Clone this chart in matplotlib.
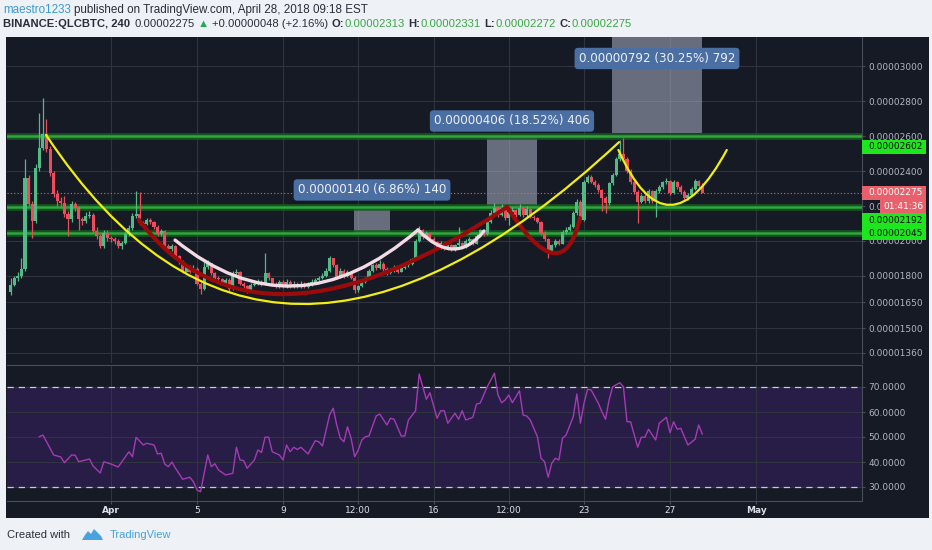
import numpy as np
import matplotlib
matplotlib.use("Agg")
import matplotlib.pyplot as plt
from matplotlib.patches import Rectangle, PathPatch, Polygon
from matplotlib.path import Path
from matplotlib.transforms import IdentityTransform

W, H = 932, 550

# QLC/BTC 4h bars, prices in satoshi (1e-8 BTC)
bar_t0 = -4 - 2 / 3      # first bar Mar 27 08:00, in days from Apr 1 00:00
bar_step = 1 / 6

opens = [1710,1750,1785,1800,1837,2361,2211,2113,2418,2534,
         2614,2528,2390,2269,2228,2217,2154,2125,2211,2188,
         2125,2113,2142,2150,2056,2027,1969,2044,2015,2009,
         1998,1969,1986,2038,2073,2142,2154,2102,2096,2119,
         2107,2079,2038,2056,1969,1952,1969,1912,1883,1825,
         1854,1825,1842,1756,1727,1848,1871,1814,1785,1780,
         1756,1779,1727,1814,1825,1756,1744,1710,1750,1756,
         1767,1750,1814,1785,1756,1739,1767,1739,1767,1739,
         1756,1739,1756,1739,1750,1767,1779,1790,1800,1830,
         1900,1860,1790,1830,1800,1825,1790,1720,1740,1765,
         1785,1830,1860,1845,1870,1840,1815,1835,1850,1825,
         1845,1860,1870,1895,2000,2060,2025,2045,2010,1995,
         1965,1990,1960,1975,1950,1975,1990,1965,2000,2010,
         1985,2030,2060,2040,2110,2160,2190,2150,2190,2130,
         2165,2175,2150,2190,2150,2185,2140,2130,2110,2045,
         2010,1945,1975,2000,1985,2050,2065,2080,2160,2225,
         2120,2340,2365,2340,2320,2290,2245,2215,2330,2380,
         2470,2500,2470,2400,2335,2280,2225,2260,2230,2285,
         2230,2285,2310,2335,2345,2275,2340,2310,2280,2245,
         2265,2300,2345,2313]
closes = [1750,1785,1800,1837,2361,2211,2113,2418,2534,2614,
          2528,2390,2269,2228,2217,2154,2125,2211,2188,2125,
          2113,2142,2150,2056,2027,1969,2044,2015,2009,1998,
          1969,1986,2038,2073,2142,2154,2102,2096,2119,2107,
          2079,2038,2056,1969,1952,1969,1912,1883,1825,1854,
          1825,1842,1756,1727,1848,1871,1814,1785,1780,1756,
          1779,1727,1814,1825,1756,1744,1710,1750,1756,1767,
          1750,1814,1785,1756,1739,1767,1739,1767,1739,1756,
          1739,1756,1739,1750,1767,1779,1790,1800,1830,1900,
          1860,1790,1830,1800,1825,1790,1720,1740,1765,1785,
          1830,1860,1845,1870,1840,1815,1835,1850,1825,1845,
          1860,1870,1895,2000,2060,2025,2045,2010,1995,1965,
          1990,1960,1975,1950,1975,1990,1965,2000,2010,1985,
          2030,2060,2040,2110,2160,2190,2150,2190,2130,2165,
          2175,2150,2190,2150,2185,2140,2130,2110,2045,2010,
          1945,1975,2000,1985,2050,2065,2080,2160,2225,2120,
          2340,2365,2340,2320,2290,2245,2215,2330,2380,2470,
          2500,2470,2400,2335,2280,2225,2260,2230,2285,2230,
          2285,2310,2335,2345,2275,2340,2310,2280,2245,2265,
          2300,2345,2313,2275]
highs = [1790,1800,1820,1900,2470,2380,2230,2440,2735,2816,
         2700,2545,2400,2290,2250,2260,2170,2230,2225,2200,
         2140,2165,2170,2160,2080,2040,2060,2060,2030,2025,
         2010,2000,2050,2090,2160,2286,2280,2115,2130,2130,
         2115,2090,2070,2065,1980,1985,1975,1920,1890,1870,
         1860,1860,1850,1765,1880,1890,1875,1820,1800,1790,
         1790,1785,1830,1840,1830,1765,1750,1760,1770,1780,
         1775,1929,1820,1790,1765,1775,1775,1780,1775,1770,
         1765,1770,1765,1765,1780,1790,1800,1815,1845,1915,
         1905,1870,1845,1840,1835,1830,1800,1750,1775,1795,
         1840,1870,1875,1890,1880,1850,1845,1860,1855,1855,
         1870,1885,1905,2010,2085,2070,2055,2050,2020,2000,
         2000,1995,1985,1980,1985,2080,1995,2010,2020,2015,
         2040,2070,2065,2120,2175,2215,2200,2210,2200,2175,
         2195,2185,2210,2200,2200,2190,2150,2140,2115,2055,
         2015,1985,2010,2010,2060,2080,2095,2170,2240,2235,
         2350,2380,2375,2350,2330,2300,2255,2340,2390,2480,
         2580,2590,2480,2410,2345,2290,2270,2270,2295,2290,
         2295,2320,2345,2360,2350,2350,2345,2320,2290,2275,
         2310,2355,2350,2331]
lows = [1690,1740,1770,1790,1830,2200,2015,2100,2400,2520,
        2510,2370,2250,2200,2190,2140,2030,2110,2170,2060,
        2090,2100,2130,2045,2010,1960,1960,2000,1995,1980,
        1960,1955,1980,2030,2065,2130,2090,2080,2090,2095,
        2070,2030,2030,1960,1940,1945,1900,1870,1815,1820,
        1815,1820,1745,1698,1720,1840,1805,1775,1770,1745,
        1750,1715,1720,1805,1745,1730,1700,1705,1740,1750,
        1740,1745,1775,1745,1730,1730,1730,1730,1730,1730,
        1730,1730,1730,1730,1740,1760,1770,1780,1795,1825,
        1850,1780,1785,1790,1795,1780,1700,1710,1735,1760,
        1780,1825,1835,1840,1830,1805,1810,1825,1815,1820,
        1840,1850,1860,1890,1995,2010,2015,2000,1985,1955,
        1955,1950,1950,1940,1945,1970,1955,1960,1990,1975,
        1980,2020,2030,2035,2100,2150,2140,2145,2120,2090,
        2155,2140,2145,2140,2140,2130,2120,2100,2035,2000,
        1900,1935,1965,1975,1980,2040,2055,2075,2150,2110,
        2115,2330,2330,2310,2280,2170,2160,2205,2320,2370,
        2460,2460,2390,2325,2270,2100,2215,2215,2220,2220,
        2140,2275,2300,2325,2265,2270,2300,2270,2235,2235,
        2255,2290,2305,2272]

# RSI readings (bar index, value)
rsi_bar = [8, 9, 12, 14, 15, 17, 18, 19, 22, 23,
           25, 26, 28, 30, 33, 34, 35, 37, 38, 40,
           41, 42, 43, 44, 45, 46, 48, 50, 51, 52,
           53, 55, 56, 57, 58, 60, 62, 63, 64, 65,
           66, 68, 69, 70, 71, 72, 73, 75, 76, 77,
           78, 79, 80, 81, 83, 84, 85, 86, 87, 89,
           90, 91, 92, 93, 94, 95, 96, 97, 98, 99,
           100, 102, 103, 105, 106, 107, 109, 110, 111, 113,
           114, 116, 117, 119, 120, 121, 122, 124, 125, 126,
           127, 129, 130, 131, 133, 135, 136, 137, 138, 139,
           140, 142, 143, 144, 145, 147, 148, 149, 150, 151,
           152, 153, 154, 155, 157, 158, 159, 160, 161, 162,
           164, 165, 166, 167, 168, 170, 171, 172, 173, 175,
           176, 177, 178, 180, 181, 183, 184, 185, 186, 187,
           189, 191, 192, 193]
rsi_val = [50.1, 50.8, 42.8, 42.0, 39.7, 42.8, 42.7, 40.1, 41.2, 38.4,
           35.6, 40.1, 39.2, 38.0, 44.1, 42.1, 49.9, 46.8, 47.5, 46.8,
           43.2, 43.5, 39.2, 38.1, 40.0, 37.5, 33.1, 33.9, 32.1, 28.8,
           28.1, 42.8, 38.1, 39.3, 36.8, 34.8, 35.5, 45.9, 40.8, 40.6,
           37.5, 40.8, 44.8, 43.8, 49.9, 49.9, 44.1, 42.8, 40.8, 46.8,
           44.1, 45.9, 45.0, 45.9, 43.2, 45.9, 48.5, 48.1, 46.4, 58.8,
           61.5, 54.8, 49.5, 48.1, 54.1, 49.5, 42.1, 44.8, 48.8, 50.1,
           50.4, 58.4, 59.2, 54.8, 57.5, 57.1, 50.4, 50.4, 56.8, 60.5,
           75.2, 65.1, 67.7, 57.5, 60.5, 60.5, 55.5, 59.5, 57.1, 60.5,
           56.8, 57.9, 63.2, 63.5, 70.1, 75.5, 66.8, 63.7, 64.8, 66.8,
           63.7, 68.5, 58.8, 58.4, 56.8, 50.1, 41.5, 40.1, 33.9, 39.5,
           41.5, 40.8, 49.5, 50.8, 58.1, 67.2, 55.5, 63.5, 69.1, 68.8,
           63.5, 60.1, 57.1, 64.8, 70.1, 71.7, 70.1, 56.1, 56.1, 45.9,
           49.9, 49.9, 53.1, 48.8, 55.5, 57.9, 51.7, 56.1, 53.1, 53.5,
           46.8, 49.1, 54.8, 51.2]

levels = [2602, 2192, 2045]
last_price = 2275

price_ticks = [3000, 2800, 2600, 2400, 2200, 2000, 1800, 1650, 1500, 1360]
rsi_ticks = [30, 40, 50, 60, 70]
date_ticks = [0, 4, 8, 11.5, 15, 18.5, 22, 26, 30]
date_labels = ["Apr", "5", "9", "12:00", "16", "12:00", "23", "27", "May"]

# price range tool boxes (days, price)
m_d0 = [11.30, 17.49, 23.30]
m_d1 = [12.98, 19.81, 27.49]
m_lo = [2045, 2192, 2618]
m_hi = [2185, 2598, 3410]
m_lab_y = [2292, 2687, 3045]
m_text = ["0.00000140 (6.86%) 140", "0.00000406 (18.52%) 406", "0.00000792 (30.25%) 792"]

# hand drawn curves: quadratic bezier (start, control, end) in (day, price)
yellow_curves = [[(-3.02, 2607), (7.28, 691), (23.63, 2566)],
                 [(23.60, 2521), (25.88, 1891), (28.64, 2521)]]
red_curves = [[(1.30, 2120), (6.79, 1235), (18.42, 2194)],
              [(18.42, 2194), (21.00, 1699), (21.81, 2131)]]
white_curves = [[(2.98, 2005), (8.49, 1450), (14.28, 2063)],
                [(14.28, 2063), (16.00, 1848), (17.35, 2057)]]

BG = '#161a25'
GRID = '#30343f'
EDGE = '#4a4e5a'
UP, DOWN = '#53b987', '#eb4d5c'

fig = plt.figure(figsize=(W / 100, H / 100), dpi=100, facecolor='#eef1f6')

def fx(x):
    return x / W

def fy(y):
    return 1 - y / H

fig.add_artist(Rectangle((fx(6), fy(518)), fx(929) - fx(6), fy(37) - fy(518),
                         transform=fig.transFigure, fc=BG, ec='none', zorder=-5))

ax = fig.add_axes([fx(7), fy(363), fx(862) - fx(7), fy(37) - fy(363)])
ax2 = fig.add_axes([fx(7), fy(501), fx(862) - fx(7), fy(365) - fy(501)], sharex=ax)

for a in (ax, ax2):
    a.set_facecolor(BG)
    for s in a.spines.values():
        s.set_color(EDGE)
        s.set_linewidth(0.8)
    a.spines['left'].set_visible(False)
    a.grid(True, color=GRID, lw=0.8, zorder=0)
    a.set_axisbelow(True)
ax.spines['top'].set_visible(False)
ax.spines['bottom'].set_visible(False)

ax.set_xlim(-4.837, 34.93)
ax.set_ylim(1301, 3168)
ax2.set_ylim(24.4, 78.8)

# candles
o = np.array(opens)
c = np.array(closes)
hi = np.array(highs)
lo = np.array(lows)
t = bar_t0 + np.arange(len(o)) * bar_step
col = np.where(c >= o, UP, DOWN)
ax.vlines(t, lo, hi, colors=col, lw=0.9, zorder=4)
ax.bar(t, np.maximum(np.abs(c - o), 5), bottom=np.minimum(o, c), width=0.145,
       color=col, lw=0, zorder=5)

# horizontal levels
for lv in levels:
    ax.axhline(lv, color='#185c22', lw=4.8, alpha=0.85, zorder=3)
    ax.axhline(lv, color='#2da63a', lw=1.8, zorder=3)
ax.axhline(last_price, color='#e8606c', lw=0.8, ls=(0, (1, 2)), zorder=6)

# measure boxes
for d0, d1, p0, p1, ly, txt in zip(m_d0, m_d1, m_lo, m_hi, m_lab_y, m_text):
    ax.add_patch(Rectangle((d0, p0), d1 - d0, p1 - p0, fc='#aab2c4', alpha=0.55,
                           lw=0, zorder=2))
    ax.text((d0 + d1) / 2, ly, txt, ha='center', va='center', color='#eef1f6',
            fontsize=8.6, zorder=9,
            bbox=dict(boxstyle='round,pad=0.35,rounding_size=0.3', fc='#4b6ea3', ec='none'))

def bez(pts, color, lw):
    path = Path(pts, [Path.MOVETO, Path.CURVE3, Path.CURVE3])
    ax.add_patch(PathPatch(path, fc='none', ec=color, lw=lw, zorder=7, capstyle='round'))

for p in red_curves:
    bez(p, '#9a0b0b', 3)
for p in white_curves:
    bez(p, '#f3dbe6', 2.4)
for p in yellow_curves:
    bez(p, '#f2ee12', 1.6)

# price axis
ax.yaxis.tick_right()
ax.set_yticks(price_ticks)
ax.set_yticklabels([f"{v / 1e8:.8f}" for v in price_ticks])
ax.tick_params(axis='y', colors=EDGE, labelcolor='#b2b5be', labelsize=6.5,
               length=2.5, pad=2, width=0.8)
ax.set_xticks(date_ticks)
ax.tick_params(axis='x', length=0, labelbottom=False)

# RSI pane
ax2.axhspan(30, 70, fc='#281d46', lw=0, zorder=0)
ax2.plot(bar_t0 + np.array(rsi_bar) * bar_step, rsi_val, color='#a43bb5', lw=1, zorder=5)
for lv in (30, 70):
    ax2.axhline(lv, color='#c8cbd3', lw=0.9, ls=(0, (5, 4)), zorder=4)
ax2.yaxis.tick_right()
ax2.set_yticks(rsi_ticks)
ax2.set_yticklabels([f"{v:.4f}" for v in rsi_ticks])
ax2.tick_params(axis='y', colors=EDGE, labelcolor='#b2b5be', labelsize=6.5,
                length=2.5, pad=2, width=0.8)
ax2.set_xticks(date_ticks)
ax2.set_xticklabels(date_labels)
ax2.tick_params(axis='x', colors=EDGE, labelcolor='#dcdfe6', labelsize=6.5,
                length=2, pad=1.5, width=0.8)
for lab in ax2.get_xticklabels():
    if lab.get_text() in ("Apr", "May"):
        lab.set_fontweight('bold')

# tags on the price scale
def ydisp(v):
    return ax.transData.transform((0, v))[1]

def tag(y, text, fc, tc, x0=862, x1=926, tx=868):
    fig.add_artist(Rectangle((x0, y - 7), x1 - x0, 14, transform=IdentityTransform(),
                             fc=fc, ec='none', zorder=10))
    fig.text(tx, y, text, transform=IdentityTransform(), color=tc, fontsize=6.5,
             va='center', ha='left', zorder=11)

LIME = '#1ee61e'
tag(ydisp(2602) - 11, "0.00002602", LIME, '#0a0a0a')
tag(ydisp(last_price), "0.00002275", '#e8606c', 'white')
tag(ydisp(last_price) - 14, "01:41:36", '#e8606c', 'white', x0=880, tx=883)
tag(ydisp(2192) - 13, "0.00002192", LIME, '#0a0a0a')
tag(ydisp(2045), "0.00002045", LIME, '#0a0a0a')

# header / footer
hdr = ['Liberation Sans', 'DejaVu Sans']
renderer = fig.canvas.get_renderer()

def text_line(x, y, parts, size):
    for s, color, weight, gap in parts:
        tt = fig.text(fx(x), fy(y), s, color=color, fontsize=size, fontweight=weight,
                      family=hdr, va='center', ha='left')
        x = tt.get_window_extent(renderer).x1 + gap

DARK = '#2a2e39'
GRN = '#3aa845'
text_line(3, 10, [("maestro1233", '#3b9bd3', 'normal', 3),
                  ("published on TradingView.com, April 28, 2018 09:18 EST", DARK, 'normal', 0)], 8.4)
text_line(3, 24, [("BINANCE:QLCBTC, 240", DARK, 'bold', 4),
                  ("0.00002275", DARK, 'normal', 3),
                  ("\u25b2", '#26a65b', 'normal', 3),
                  ("+0.00000048 (+2.16%)", DARK, 'normal', 4),
                  ("O:", DARK, 'bold', 0), ("0.00002313", GRN, 'normal', 4),
                  ("H:", DARK, 'bold', 0), ("0.00002331", GRN, 'normal', 4),
                  ("L:", DARK, 'bold', 0), ("0.00002272", GRN, 'normal', 4),
                  ("C:", DARK, 'bold', 0), ("0.00002275", GRN, 'normal', 0)], 8.1)

fig.text(fx(7), fy(535), "Created with", color=DARK, fontsize=8, family=hdr,
         va='center', ha='left')
logo = [(82, 540), (85, 535), (88, 531), (91, 534), (94, 529), (98, 533),
        (101, 536), (103, 540)]
fig.add_artist(Polygon([(fx(px), fy(py)) for px, py in logo], closed=True,
                       transform=fig.transFigure, fc='#4aa3df', ec='none'))
fig.text(fx(110), fy(535), "TradingView", color='#45a2dc', fontsize=8, family=hdr,
         va='center', ha='left')

fig.savefig("out.png", dpi=100, facecolor=fig.get_facecolor())
